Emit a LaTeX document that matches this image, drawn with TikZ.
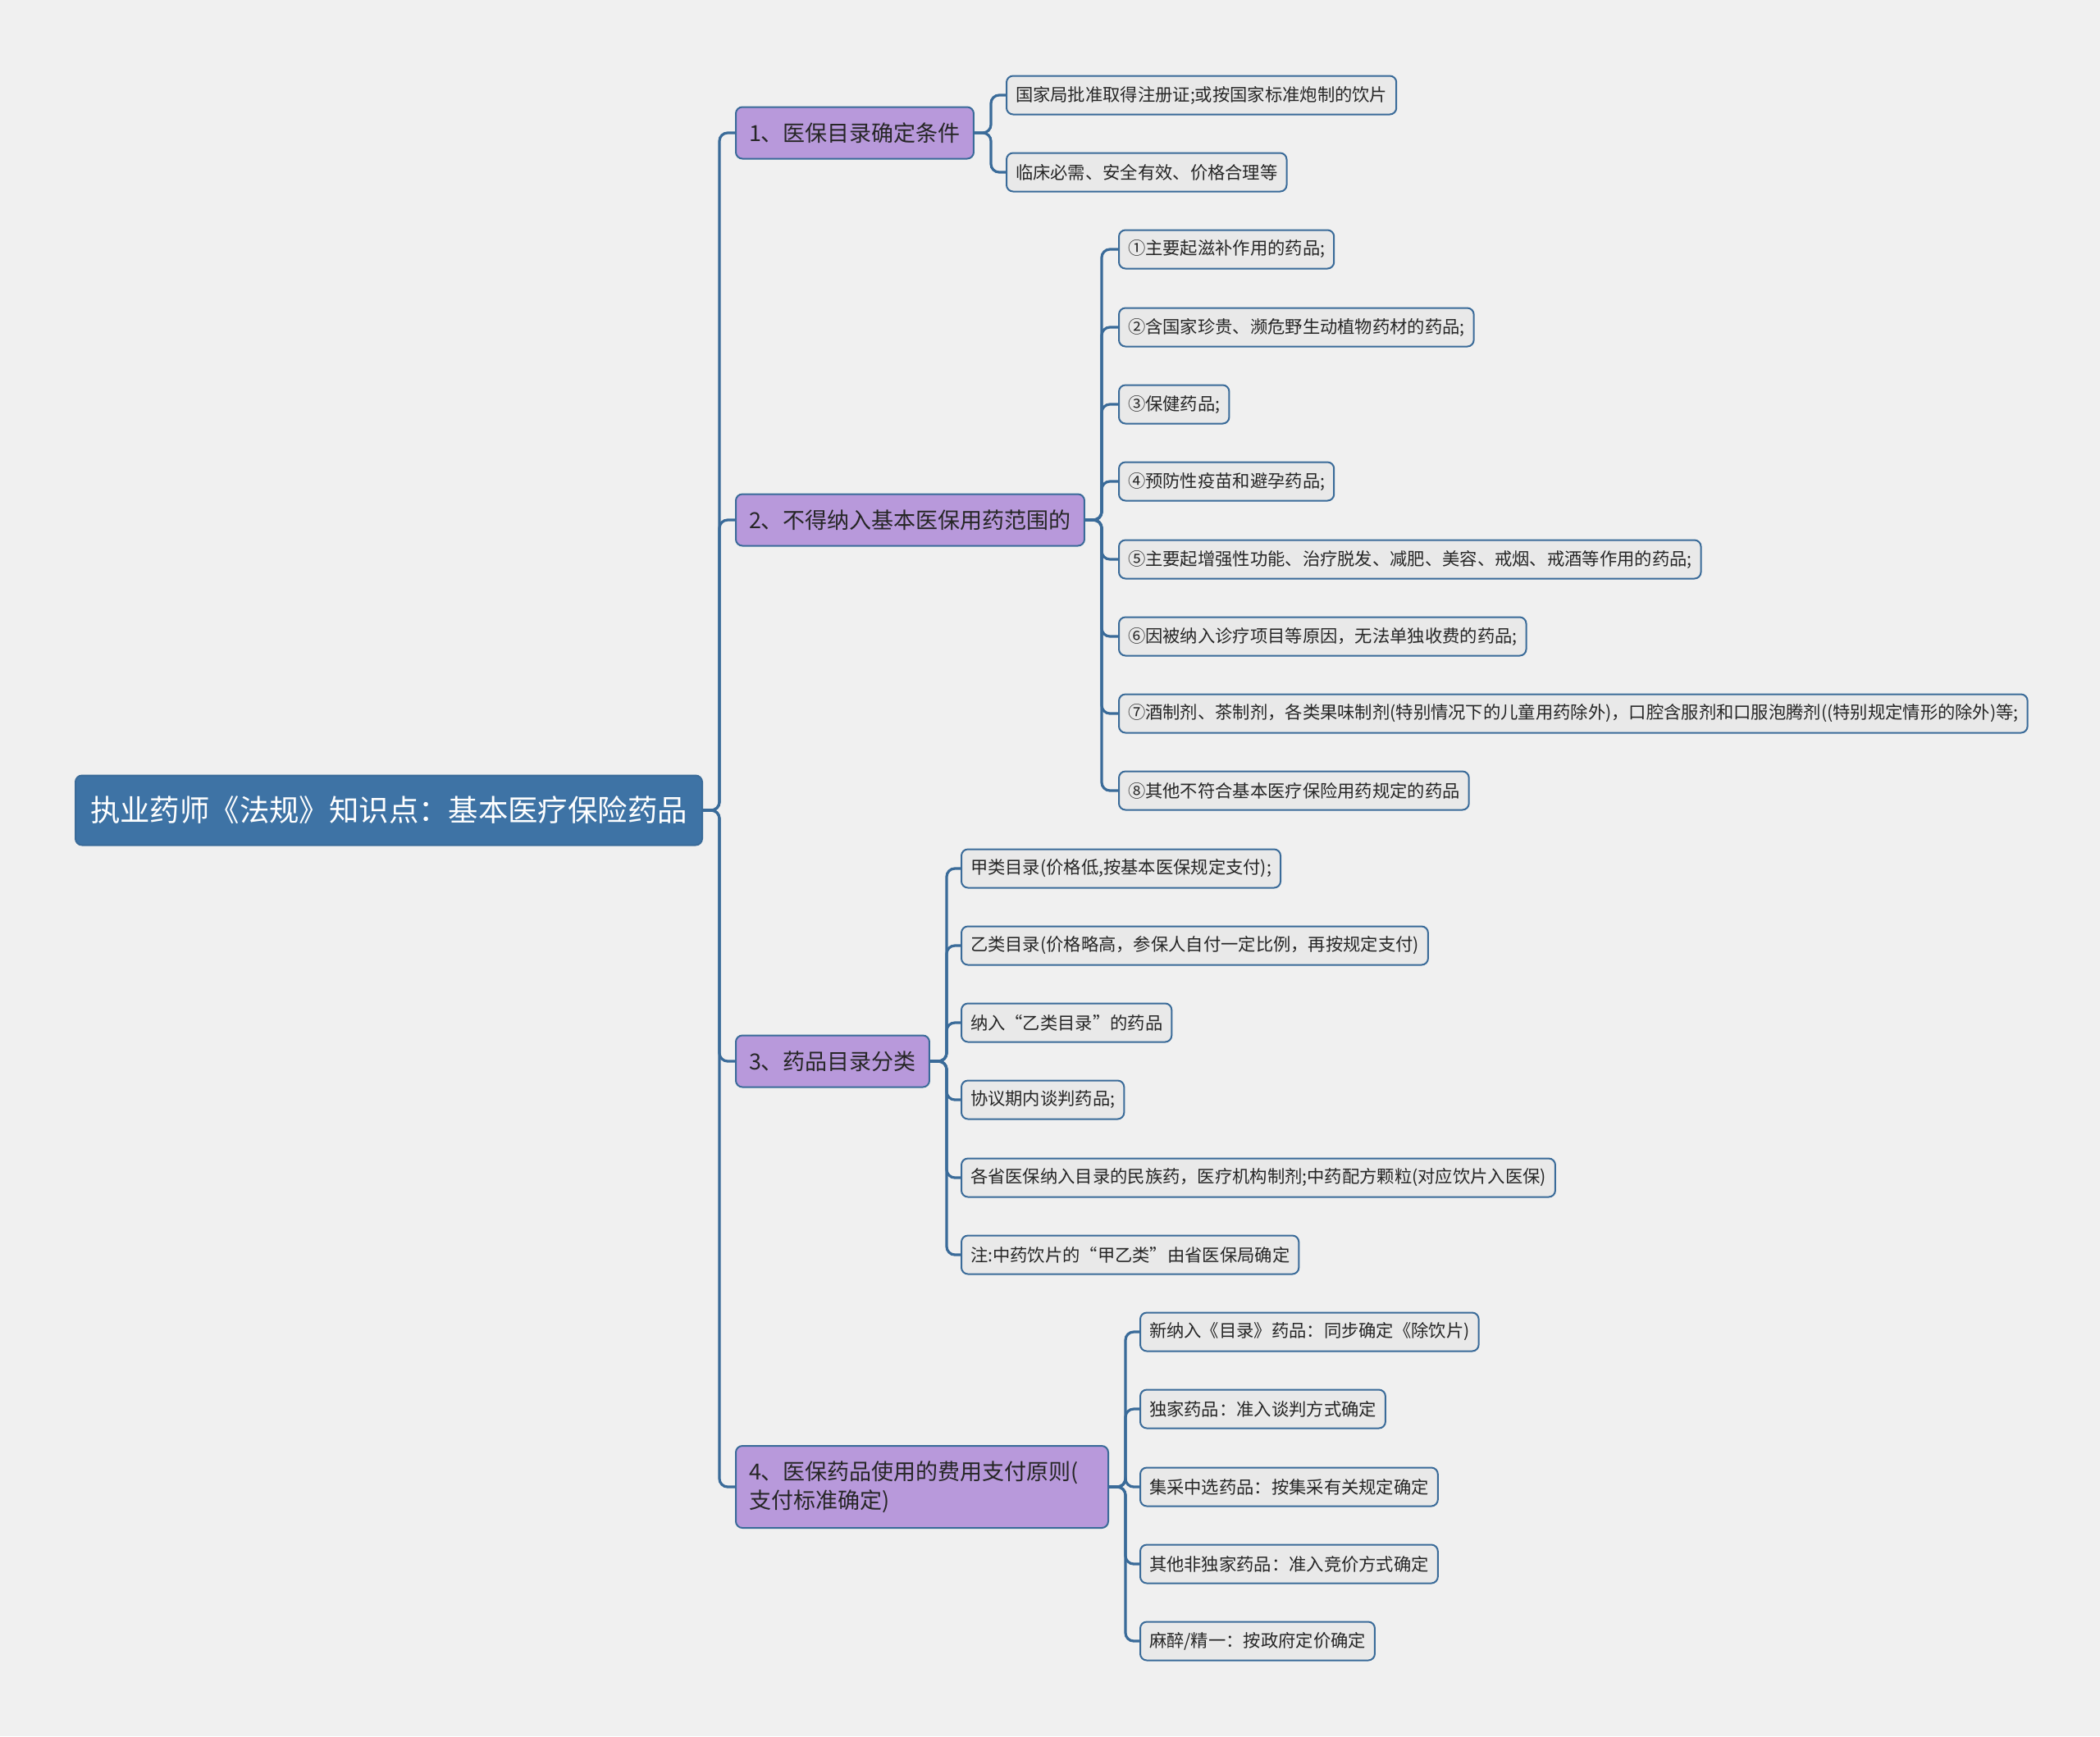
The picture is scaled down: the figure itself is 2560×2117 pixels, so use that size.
\documentclass[tikz,border=0pt]{standalone}
\usepackage{fontspec}
\setmainfont{Noto Sans CJK SC}
\usetikzlibrary{positioning}
\definecolor{canvas}{HTML}{F0F0F0}
\definecolor{rootblue}{HTML}{3E73A5}
\definecolor{linkblue}{HTML}{3A6B99}
\definecolor{lilac}{HTML}{B899DB}
\definecolor{leafgray}{HTML}{E9E9E9}
\tikzset{
  rootbox/.style={draw=linkblue, fill=rootblue, rounded corners=4pt, line width=1pt, text=white, font=\fontsize{18.2}{22}\selectfont, minimum height=42.5pt, inner xsep=9pt, anchor=west},
  topicbox/.style={draw=linkblue, fill=lilac, rounded corners=4pt, line width=1pt, text=black!85, font=\fontsize{13.5}{17.5}\selectfont, minimum height=31.5pt, inner xsep=8pt, anchor=west, align=left},
  leafbox/.style={draw=linkblue, fill=leafgray, rounded corners=4pt, line width=1pt, text=black!85, font=\fontsize{10.65}{13}\selectfont, minimum height=23.5pt, inner xsep=5.5pt, anchor=west},
  branch/.style={draw=linkblue, line width=1.6pt, rounded corners=5pt}
}

\begin{document}
\begin{tikzpicture}[x=0.5pt, y=-0.5pt]
\fill[canvas] (0,0) rectangle (2560,2117);
\useasboundingbox (0,0) rectangle (2560,2117);

\node[rootbox] (main) at (91,988) {执业药师《法规》知识点：基本医疗保险药品};

\node[topicbox] (t1) at (896,162) {1、医保目录确定条件};
\node[topicbox] (t2) at (896,634) {2、不得纳入基本医保用药范围的};
\node[topicbox] (t3) at (896,1294) {3、药品目录分类};
\node[topicbox, minimum height=50pt, text width=211pt] (t4) at (896,1813) {4、医保药品使用的费用支付原则(\\支付标准确定)};

% group 1
\node[leafbox] (a1) at (1226,116) {国家局批准取得注册证;或按国家标准炮制的饮片};
\node[leafbox] (a2) at (1226,210) {临床必需、安全有效、价格合理等};

% group 2
\node[leafbox] (b1) at (1363,304) {①主要起滋补作用的药品;};
\node[leafbox] (b2) at (1363,399) {②含国家珍贵、濒危野生动植物药材的药品;};
\node[leafbox] (b3) at (1363,493) {③保健药品;};
\node[leafbox] (b4) at (1363,587) {④预防性疫苗和避孕药品;};
\node[leafbox] (b5) at (1363,682) {⑤主要起增强性功能、治疗脱发、减肥、美容、戒烟、戒酒等作用的药品;};
\node[leafbox] (b6) at (1363,776) {⑥因被纳入诊疗项目等原因，无法单独收费的药品;};
\node[leafbox] (b7) at (1363,870) {⑦酒制剂、茶制剂，各类果味制剂(特别情况下的儿童用药除外)，口腔含服剂和口服泡腾剂((特别规定情形的除外)等;};
\node[leafbox] (b8) at (1363,964) {⑧其他不符合基本医疗保险用药规定的药品};

% group 3
\node[leafbox] (c1) at (1171,1059) {甲类目录(价格低,按基本医保规定支付);};
\node[leafbox] (c2) at (1171,1153) {乙类目录(价格略高，参保人自付一定比例，再按规定支付)};
\node[leafbox] (c3) at (1171,1247) {纳入“乙类目录”的药品};
\node[leafbox] (c4) at (1171,1341) {协议期内谈判药品;};
\node[leafbox] (c5) at (1171,1436) {各省医保纳入目录的民族药，医疗机构制剂;中药配方颗粒(对应饮片入医保)};
\node[leafbox] (c6) at (1171,1530) {注:中药饮片的“甲乙类”由省医保局确定};

% group 4
\node[leafbox] (d1) at (1389,1624) {新纳入《目录》药品：同步确定《除饮片)};
\node[leafbox] (d2) at (1389,1718) {独家药品：准入谈判方式确定};
\node[leafbox] (d3) at (1389,1813) {集采中选药品：按集采有关规定确定};
\node[leafbox] (d4) at (1389,1907) {其他非独家药品：准入竞价方式确定};
\node[leafbox] (d5) at (1389,2001) {麻醉/精一：按政府定价确定};

% links
\draw[branch] (main.east) -- ++(20,0) |- (t1.west);
\draw[branch] (main.east) -- ++(20,0) |- (t2.west);
\draw[branch] (main.east) -- ++(20,0) |- (t3.west);
\draw[branch] (main.east) -- ++(20,0) |- (t4.west);

\draw[branch] (t1.east) -- ++(20,0) |- (a1.west);
\draw[branch] (t1.east) -- ++(20,0) |- (a2.west);

\draw[branch] (t2.east) -- ++(20,0) |- (b1.west);
\draw[branch] (t2.east) -- ++(20,0) |- (b2.west);
\draw[branch] (t2.east) -- ++(20,0) |- (b3.west);
\draw[branch] (t2.east) -- ++(20,0) |- (b4.west);
\draw[branch] (t2.east) -- ++(20,0) |- (b5.west);
\draw[branch] (t2.east) -- ++(20,0) |- (b6.west);
\draw[branch] (t2.east) -- ++(20,0) |- (b7.west);
\draw[branch] (t2.east) -- ++(20,0) |- (b8.west);

\draw[branch] (t3.east) -- ++(20,0) |- (c1.west);
\draw[branch] (t3.east) -- ++(20,0) |- (c2.west);
\draw[branch] (t3.east) -- ++(20,0) |- (c3.west);
\draw[branch] (t3.east) -- ++(20,0) |- (c4.west);
\draw[branch] (t3.east) -- ++(20,0) |- (c5.west);
\draw[branch] (t3.east) -- ++(20,0) |- (c6.west);

\draw[branch] (t4.east) -- ++(20,0) |- (d1.west);
\draw[branch] (t4.east) -- ++(20,0) |- (d2.west);
\draw[branch] (t4.east) -- ++(20,0) |- (d3.west);
\draw[branch] (t4.east) -- ++(20,0) |- (d4.west);
\draw[branch] (t4.east) -- ++(20,0) |- (d5.west);
\end{tikzpicture}
\end{document}
